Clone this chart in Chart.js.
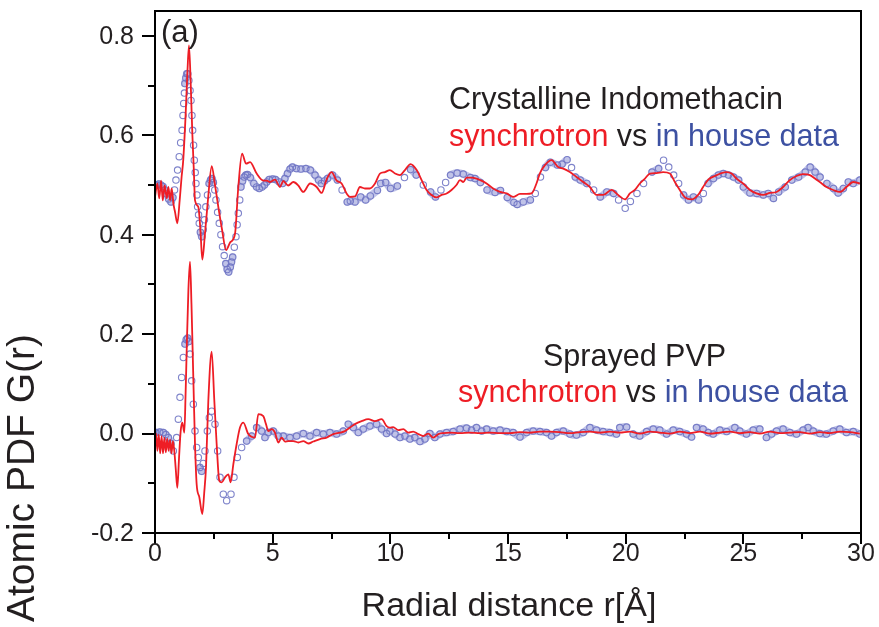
<!DOCTYPE html>
<html>
<head>
<meta charset="utf-8">
<script src="https://cdn.jsdelivr.net/npm/chart.js@4.4.1/dist/chart.umd.min.js"></script>
<style>
  html, body { margin: 0; padding: 0; background: #ffffff; }
  #wrap { width: 879px; height: 627px; position: relative; }
</style>
</head>
<body>
<div id="wrap"><canvas id="c" width="879" height="627"></canvas></div>
<script>
// ---- Data ----
// Crystalline Indomethacin, synchrotron (red line)
const indoSyncR = [0.00,0.10,0.18,0.26,0.33,0.41,0.50,0.57,0.64,0.71,0.78,0.85,0.95,1.05,1.13,1.20,1.30,1.38,1.445,1.52,1.586,1.65,1.70,1.84,1.93,2.01,2.12,2.25,2.41,2.55,2.69,2.85,3.02,3.20,3.40,3.54,3.70,3.87,4.04,4.32,4.60,4.74,4.89,5.10,5.31,5.45,5.66,5.88,6.09,6.30,6.59,6.87,7.08,7.29,7.50,7.72,7.93,8.14,8.28,8.50,8.71,8.92,9.13,9.35,9.56,9.77,9.98,10.20,10.41,10.62,10.86,11.12,11.33,11.54,11.75,11.96,12.18,12.39,12.60,12.81,12.96,13.10,13.24,13.45,13.66,13.81,14.09,14.37,14.66,14.94,15.22,15.51,15.79,16.00,16.21,16.35,16.57,16.85,17.13,17.35,17.63,17.91,18.20,18.48,18.76,19.04,19.40,19.68,19.97,20.18,20.39,20.60,20.82,21.03,21.31,21.59,21.88,22.09,22.30,22.52,22.80,23.08,23.29,23.51,23.79,24.07,24.29,24.50,24.71,24.99,25.28,25.56,25.84,26.13,26.41,26.69,26.98,27.26,27.54,27.83,28.04,28.25,28.53,28.82,29.10,29.38,29.67,29.95];
const indoSyncG = [0.476,0.503,0.473,0.509,0.469,0.499,0.473,0.496,0.469,0.493,0.463,0.446,0.423,0.470,0.516,0.550,0.640,0.730,0.781,0.700,0.604,0.530,0.469,0.456,0.410,0.350,0.400,0.470,0.538,0.500,0.456,0.410,0.369,0.385,0.402,0.496,0.563,0.543,0.546,0.523,0.509,0.509,0.506,0.511,0.496,0.508,0.499,0.506,0.499,0.486,0.503,0.496,0.484,0.511,0.526,0.509,0.503,0.483,0.476,0.477,0.496,0.493,0.493,0.503,0.523,0.526,0.530,0.523,0.520,0.530,0.542,0.530,0.510,0.490,0.480,0.475,0.480,0.483,0.490,0.500,0.510,0.506,0.515,0.515,0.513,0.510,0.503,0.493,0.486,0.483,0.476,0.482,0.482,0.483,0.503,0.523,0.540,0.550,0.536,0.533,0.526,0.516,0.506,0.496,0.480,0.480,0.490,0.480,0.471,0.483,0.490,0.503,0.513,0.523,0.524,0.526,0.523,0.506,0.490,0.475,0.471,0.480,0.496,0.511,0.518,0.524,0.526,0.523,0.513,0.503,0.490,0.483,0.480,0.484,0.486,0.496,0.510,0.518,0.522,0.520,0.513,0.506,0.496,0.490,0.486,0.496,0.506,0.503];

// Crystalline Indomethacin, in house data (blue circles)
const indoHouseR = [0.00,0.08,0.16,0.25,0.34,0.42,0.50,0.58,0.68,0.76,0.83,0.89,0.96,1.03,1.09,1.15,1.19,1.22,1.25,1.27,1.31,1.35,1.39,1.44,1.49,1.53,1.57,1.60,1.64,1.67,1.71,1.74,1.78,1.81,1.85,1.88,1.93,1.99,2.05,2.10,2.16,2.23,2.30,2.36,2.42,2.48,2.54,2.59,2.66,2.73,2.80,2.87,2.94,3.01,3.07,3.13,3.20,3.25,3.30,3.37,3.44,3.49,3.54,3.60,3.65,3.72,3.79,3.86,3.93,4.05,4.20,4.32,4.43,4.55,4.65,4.75,4.85,5.00,5.12,5.28,5.42,5.52,5.63,5.74,5.84,6.00,6.20,6.41,6.60,6.80,6.95,7.07,7.20,7.33,7.54,7.75,7.95,8.17,8.30,8.50,8.74,8.95,9.15,9.45,9.59,9.80,10.01,10.30,10.60,10.86,11.10,11.40,11.71,11.92,12.15,12.35,12.56,12.84,13.10,13.40,13.60,13.83,14.11,14.45,14.68,14.97,15.25,15.39,15.65,15.95,16.16,16.38,16.59,16.80,17.10,17.30,17.51,17.70,17.86,18.07,18.35,18.64,18.92,19.20,19.49,19.70,19.98,20.20,20.48,20.76,21.12,21.40,21.61,21.83,22.04,22.25,22.46,22.67,22.88,23.10,23.30,23.50,23.73,23.94,24.15,24.37,24.58,24.80,25.00,25.28,25.57,25.85,26.06,26.28,26.50,26.78,27.06,27.35,27.63,27.84,28.05,28.26,28.55,28.83,29.03,29.25,29.46,29.67,29.95];
const indoHouseG = [0.500,0.500,0.502,0.500,0.497,0.490,0.482,0.472,0.466,0.475,0.490,0.510,0.530,0.557,0.585,0.610,0.640,0.664,0.685,0.704,0.715,0.724,0.724,0.710,0.690,0.670,0.640,0.610,0.580,0.550,0.525,0.503,0.480,0.456,0.440,0.423,0.405,0.396,0.410,0.430,0.456,0.480,0.503,0.510,0.513,0.505,0.490,0.470,0.445,0.423,0.400,0.376,0.358,0.342,0.330,0.325,0.335,0.345,0.355,0.375,0.396,0.420,0.443,0.470,0.496,0.508,0.516,0.520,0.521,0.515,0.503,0.496,0.493,0.496,0.500,0.506,0.511,0.512,0.511,0.506,0.503,0.513,0.523,0.532,0.536,0.533,0.532,0.533,0.530,0.520,0.510,0.503,0.508,0.513,0.520,0.510,0.490,0.466,0.468,0.466,0.476,0.470,0.478,0.489,0.503,0.505,0.493,0.498,0.515,0.531,0.520,0.500,0.486,0.476,0.490,0.505,0.520,0.524,0.522,0.515,0.513,0.505,0.490,0.485,0.489,0.475,0.465,0.461,0.466,0.470,0.483,0.516,0.535,0.546,0.540,0.542,0.551,0.535,0.516,0.510,0.503,0.490,0.476,0.486,0.483,0.470,0.453,0.467,0.483,0.503,0.526,0.533,0.550,0.536,0.520,0.503,0.480,0.470,0.476,0.470,0.483,0.503,0.513,0.520,0.523,0.520,0.516,0.510,0.496,0.484,0.483,0.480,0.483,0.473,0.486,0.496,0.510,0.516,0.526,0.536,0.526,0.516,0.503,0.493,0.484,0.493,0.506,0.503,0.510];

// Sprayed PVP, synchrotron (red line)
const pvpSyncR = [0.00,0.05,0.10,0.16,0.22,0.28,0.34,0.40,0.46,0.52,0.58,0.64,0.70,0.76,0.82,0.88,0.949,1.02,1.091,1.162,1.247,1.30,1.346,1.42,1.487,1.55,1.60,1.65,1.70,1.77,1.884,2.011,2.09,2.167,2.266,2.408,2.521,2.62,2.733,2.832,2.974,3.116,3.215,3.328,3.47,3.611,3.753,3.965,4.248,4.39,4.602,4.716,4.815,4.956,5.098,5.24,5.381,5.523,5.665,5.877,6.09,6.302,6.514,6.726,7.01,7.293,7.576,7.859,8.072,8.284,8.496,8.779,9.063,9.346,9.63,9.842,9.983,10.12,10.34,10.55,10.76,10.97,11.19,11.40,11.61,11.82,12.04,12.25,12.53,12.96,13.38,13.81,14.23,14.66,15.08,15.50,15.93,16.35,16.78,17.20,17.63,18.05,18.48,18.90,19.33,19.75,20.18,20.60,21.03,21.45,21.88,22.30,22.73,23.15,23.58,24.00,24.43,24.85,25.28,25.70,26.13,26.55,26.98,27.40,27.83,28.25,28.67,29.10,29.52,29.95];
const pvpSyncG = [-0.030,0.000,-0.035,-0.002,-0.040,-0.005,-0.040,-0.008,-0.038,-0.010,-0.035,-0.012,-0.040,-0.015,-0.035,-0.070,-0.109,-0.050,0.005,0.022,0.002,0.080,0.166,0.290,0.346,0.260,0.166,0.070,-0.021,-0.102,-0.128,-0.162,-0.120,-0.068,0.066,0.165,0.066,-0.021,-0.095,-0.098,-0.088,-0.082,-0.098,-0.062,-0.021,0.012,0.022,-0.001,-0.008,0.039,0.035,0.019,0.005,0.009,0.002,-0.018,-0.008,-0.016,-0.015,-0.015,-0.018,-0.015,-0.020,-0.016,-0.011,-0.008,-0.001,0.002,0.005,0.012,0.019,0.025,0.029,0.025,0.029,0.015,0.012,0.013,0.007,0.009,0.002,0.004,-0.001,-0.005,0.000,-0.008,-0.001,0.001,0.002,0.001,0.002,0.001,0.002,0.001,0.001,0.003,0.002,0.004,0.004,0.003,0.001,0.003,0.004,0.002,0.004,0.002,0.004,0.000,0.004,0.002,0.000,0.004,0.001,0.004,0.000,0.002,0.004,0.001,0.003,0.000,0.004,0.001,0.002,0.003,0.000,0.003,0.001,0.004,0.003,0.000];

// Sprayed PVP, in house data (blue circles)
const pvpHouseR = [0.00,0.043,0.20,0.354,0.46,0.567,0.68,0.779,0.921,0.992,1.062,1.133,1.204,1.275,1.33,1.388,1.44,1.487,1.558,1.629,1.70,1.77,1.841,1.912,1.983,2.05,2.124,2.224,2.308,2.408,2.549,2.662,2.762,2.903,3.045,3.229,3.356,3.498,3.682,3.894,4.107,4.319,4.532,4.673,4.815,5.027,5.24,5.452,5.735,6.018,6.302,6.585,6.868,7.151,7.434,7.718,8.001,8.213,8.426,8.638,8.85,9.134,9.417,9.63,9.842,9.98,10.20,10.41,10.62,10.83,11.04,11.26,11.47,11.68,11.89,12.11,12.39,12.67,12.96,13.24,13.45,13.66,13.88,14.09,14.37,14.66,14.94,15.22,15.51,15.79,16.07,16.36,16.64,16.85,17.06,17.35,17.63,17.91,18.20,18.48,18.76,19.04,19.33,19.61,19.75,20.04,20.32,20.60,20.89,21.17,21.45,21.74,22.02,22.30,22.59,22.80,23.01,23.29,23.51,23.72,24.00,24.29,24.64,24.85,25.13,25.42,25.70,25.98,26.20,26.41,26.69,26.98,27.26,27.54,27.75,27.97,28.25,28.53,28.82,29.10,29.38,29.67,29.95];
const pvpHouseG = [0.002,0.002,0.003,0.002,-0.002,-0.008,-0.020,-0.035,-0.008,0.029,0.073,0.113,0.153,0.180,0.189,0.192,0.185,0.160,0.106,0.059,0.005,-0.028,-0.048,-0.068,-0.076,-0.060,-0.035,0.005,0.032,0.045,0.019,-0.035,-0.088,-0.122,-0.135,-0.122,-0.088,-0.048,-0.028,-0.015,-0.005,0.012,0.005,-0.008,0.002,0.005,-0.005,-0.005,-0.008,-0.005,0.000,-0.005,0.002,-0.001,0.002,-0.001,0.005,0.019,0.012,0.002,0.009,0.015,0.019,0.009,0.000,0.005,-0.001,-0.008,-0.005,-0.011,-0.008,-0.016,-0.011,0.000,-0.008,-0.001,0.002,0.004,0.009,0.011,0.007,0.012,0.005,0.009,0.005,0.007,0.004,0.002,-0.007,0.002,0.005,0.004,0.002,-0.005,0.002,0.005,-0.001,-0.003,0.002,0.012,0.007,0.004,0.002,-0.001,0.012,0.013,-0.001,-0.005,0.004,0.009,0.007,-0.001,0.007,0.004,-0.001,-0.007,0.012,0.009,0.002,-0.001,0.007,0.004,0.012,0.005,-0.001,0.007,0.009,-0.008,-0.001,0.005,0.009,0.002,-0.001,0.007,0.012,0.005,0.000,-0.001,0.005,0.009,0.002,0.004,-0.001];

// Tick values and labels
const xMajorTicks = [0, 5, 10, 15, 20, 25, 30];
const xTickLabels = ['0','5','10','15','20','25','30'];
const xMinorTicks = [2.5, 7.5, 12.5, 17.5, 22.5, 27.5];
const yMajorTicks = [-0.2, 0.0, 0.2, 0.4, 0.6, 0.8];
const yTickLabels = ['-0.2','0.0','0.2','0.4','0.6','0.8'];
const yMinorTicks = [-0.1, 0.1, 0.3, 0.5, 0.7];

// Axis titles and annotations
const xTitle = 'Radial distance r[\u00C5]';
const yTitle = 'Atomic PDF G(r)';
const panelLabel = '(a)';
const sampleNames = ['Crystalline Indomethacin', 'Sprayed PVP'];

// ---- Styles ----
const RED = '#ee1d25';
const BLUE_TXT = '#3d51a2';
const DARK = '#231f20';
const RING = 'rgba(112,118,196,0.9)';
const BAND = 'rgba(140,146,214,0.55)';
const SANS = "'Liberation Sans', Arial, Helvetica, sans-serif";

function zip(r, g) { return r.map((v, i) => ({ x: v, y: g[i] })); }

function lineSet(r, g) {
  return {
    data: zip(r, g), showLine: true, borderColor: RED, borderWidth: 1.8,
    pointRadius: 0, cubicInterpolationMode: 'monotone', order: 0
  };
}
function ringSet(r, g) {
  return {
    data: zip(r, g), showLine: true, borderColor: BAND, borderWidth: 7.5, tension: 0.2,
    borderJoinStyle: 'round', borderCapStyle: 'round',
    segment: { borderColor: c => Math.abs(c.p1.y - c.p0.y) > 6 ? 'rgba(0,0,0,0)' : BAND },
    pointRadius: 3.2, pointStyle: 'circle', pointBorderColor: RING, pointBorderWidth: 1.1,
    pointBackgroundColor: 'rgba(0,0,0,0)', order: 1
  };
}

const frameAndText = {
  id: 'frameAndText',
  afterDraw(chart) {
    const { ctx, chartArea: a, scales: { x, y } } = chart;
    ctx.save();
    // frame
    ctx.strokeStyle = '#000';
    ctx.lineWidth = 2;
    ctx.strokeRect(a.left, a.top, a.right - a.left, a.bottom - a.top);
    // ticks
    ctx.beginPath();
    const yTick = (v, len) => { const py = Math.round(y.getPixelForValue(v)); ctx.moveTo(a.left - len, py); ctx.lineTo(a.left, py); };
    const xTick = (v, len) => { const px = Math.round(x.getPixelForValue(v)); ctx.moveTo(px, a.bottom); ctx.lineTo(px, a.bottom + len); };
    yMajorTicks.forEach(v => yTick(v, 13));
    yMinorTicks.forEach(v => yTick(v, 7));
    xMajorTicks.forEach(v => xTick(v, 11));
    xMinorTicks.forEach(v => xTick(v, 6));
    ctx.stroke();

    // tick labels
    ctx.fillStyle = DARK;
    ctx.font = '25px ' + SANS;
    ctx.textAlign = 'right';
    ctx.textBaseline = 'middle';
    yMajorTicks.forEach((v, i) => ctx.fillText(yTickLabels[i], 134, y.getPixelForValue(v) + 1));
    ctx.textAlign = 'center';
    ctx.textBaseline = 'alphabetic';
    xMajorTicks.forEach((v, i) => ctx.fillText(xTickLabels[i], x.getPixelForValue(v), 561));

    // axis titles
    ctx.font = '34px ' + SANS;
    ctx.fillText(xTitle, 509, 616);
    ctx.save();
    ctx.translate(34, 478);
    ctx.rotate(-Math.PI / 2);
    ctx.font = '39px ' + SANS;
    ctx.fillText(yTitle, 0, 0);
    ctx.restore();

    // panel label
    ctx.textAlign = 'left';
    ctx.font = '31px ' + SANS;
    ctx.fillText(panelLabel, 161, 42);

    // annotations
    ctx.font = '30.5px ' + SANS;
    function rich(parts, px, py) {
      let cx = px;
      parts.forEach(([s, col]) => {
        ctx.fillStyle = col;
        ctx.fillText(s, cx, py);
        cx += ctx.measureText(s).width;
      });
    }
    const cmp = [['synchrotron', RED], [' vs ', DARK], ['in house data', BLUE_TXT]];
    ctx.fillStyle = DARK;
    ctx.fillText(sampleNames[0], 449, 109);
    rich(cmp, 449, 146);
    ctx.fillStyle = DARK;
    ctx.fillText(sampleNames[1], 543, 366);
    rich(cmp, 458, 402);
    ctx.restore();
  }
};

new Chart(document.getElementById('c'), {
  type: 'scatter',
  data: {
    datasets: [
      lineSet(indoSyncR, indoSyncG),
      lineSet(pvpSyncR, pvpSyncG),
      ringSet(indoHouseR, indoHouseG),
      ringSet(pvpHouseR, pvpHouseG)
    ]
  },
  options: {
    responsive: false,
    animation: false,
    devicePixelRatio: 1,
    layout: { padding: { top: 11, right: 18, left: 0, bottom: 0 } },
    plugins: { legend: { display: false }, tooltip: { enabled: false } },
    scales: {
      x: {
        type: 'linear', min: 0, max: 30,
        afterFit: s => { s.height = 94; },
        border: { display: false },
        grid: { display: false },
        ticks: { display: false }
      },
      y: {
        type: 'linear', min: -0.2, max: 0.85,
        afterFit: s => { s.width = 155; },
        border: { display: false },
        grid: { display: false },
        ticks: { display: false }
      }
    }
  },
  plugins: [frameAndText]
});
</script>
</body>
</html>
